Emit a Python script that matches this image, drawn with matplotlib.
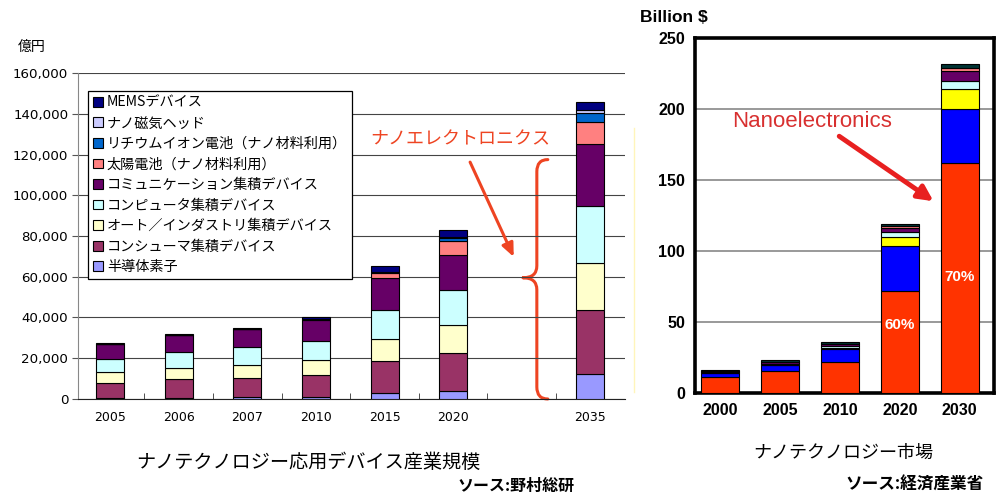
import matplotlib

matplotlib.use("Agg")
import matplotlib.pyplot as plt
import numpy as np
from matplotlib.patches import PathPatch
from matplotlib.path import Path

plt.rcParams["font.family"] = ["Noto Sans CJK JP", "DejaVu Sans"]

# ---- left chart: ナノテクノロジー応用デバイス産業規模 (億円) ----
left_years = ["2005", "2006", "2007", "2010", "2015", "2020", "", "2035"]
# stacking order: bottom -> top
left_series = [
    "半導体素子",
    "コンシューマ集積デバイス",
    "オート／インダストリ集積デバイス",
    "コンピュータ集積デバイス",
    "コミュニケーション集積デバイス",
    "太陽電池（ナノ材料利用）",
    "リチウムイオン電池（ナノ材料利用）",
    "ナノ磁気ヘッド",
    "MEMSデバイス",
]
semiconductor = [400, 300, 1000, 1000, 2800, 4100, 0, 12500]
consumer = [7300, 9300, 9200, 11000, 15800, 18400, 0, 31400]
auto_industry = [5600, 5700, 6600, 7000, 11000, 13700, 0, 22700]
computer = [6400, 7700, 8700, 9400, 14300, 17100, 0, 28000]
communication = [7500, 8500, 9000, 10500, 15500, 17600, 0, 30500]
solar = [0, 0, 0, 200, 2600, 6600, 0, 10700]
lithium = [0, 0, 0, 100, 300, 1500, 0, 4400]
magnetic_head = [0, 0, 0, 100, 200, 300, 0, 1600]
mems = [200, 600, 300, 700, 2900, 3600, 0, 4000]
left_colors = ["#9999FF", "#993366", "#FFFFCC", "#CCFFFF", "#660066",
               "#FF8080", "#0066CC", "#CCCCFF", "#000080"]

# ---- right chart: ナノテクノロジー市場 (Billion $) ----
right_years = ["2000", "2005", "2010", "2020", "2030"]
nanoelectronics = [11, 15.7, 22, 72, 162]
r_blue = [2.8, 4.0, 8.7, 31.5, 38]
r_yellow = [0.2, 0.3, 0.8, 6.3, 14]
r_cyan = [0.8, 0.8, 1.5, 3.5, 6]
r_purple = [0.5, 0.8, 1.2, 3.0, 7]
r_pink = [0.2, 0.3, 0.6, 1.5, 2]
r_dark = [0.7, 1.2, 1.4, 1.5, 3]
right_colors = ["#FF3300", "#0000FF", "#FFFF00", "#CCFFFF", "#660066",
                "#FF8080", "#003333"]
share_labels = {3: "60%", 4: "70%"}

RED = "#EE4422"


def draw_brace(ax, x_tip, x_line, x_end, y_top, y_mid, y_bot, color):
    r = (y_top - y_bot) * 0.05
    verts = [
        (x_end, y_top), (x_line, y_top), (x_line, y_top - r),
        (x_line, y_mid + r), (x_line, y_mid), (x_tip, y_mid),
        (x_tip, y_mid), (x_line, y_mid), (x_line, y_mid - r),
        (x_line, y_bot + r), (x_line, y_bot), (x_end, y_bot),
    ]
    codes = [Path.MOVETO, Path.CURVE3, Path.CURVE3,
             Path.LINETO, Path.CURVE3, Path.CURVE3,
             Path.MOVETO, Path.CURVE3, Path.CURVE3,
             Path.LINETO, Path.CURVE3, Path.CURVE3]
    patch = PathPatch(Path(verts, codes), fill=False, edgecolor=color,
                      lw=2.2, clip_on=False, capstyle="round")
    ax.add_patch(patch)


def plot_left(fig):
    ax = fig.add_axes([0.0782, 0.194, 0.549, 0.6585])
    data = [semiconductor, consumer, auto_industry, computer, communication,
            solar, lithium, magnetic_head, mems]
    x = np.arange(len(left_years))
    mask = np.array([y != "" for y in left_years])
    bottom = np.zeros(len(x))
    handles = []
    for name, vals, col in zip(left_series, data, left_colors):
        vals = np.array(vals, dtype=float)
        b = ax.bar(x[mask], vals[mask], 0.41, bottom=bottom[mask], color=col,
                   edgecolor="black", linewidth=0.8, label=name, zorder=3)
        handles.append(b)
        bottom += vals

    ax.set_xlim(-0.47, 7.51)
    ax.set_ylim(0, 160000)
    ax.set_yticks(np.arange(0, 160001, 20000))
    ax.set_yticklabels([f"{v:,}" for v in range(0, 160001, 20000)],
                       family="DejaVu Sans", fontsize=9.6)
    ax.set_xticks(x)
    ax.set_xticklabels(left_years, family="DejaVu Sans", fontsize=9)
    ax.tick_params(axis="x", length=0, pad=9)
    ax.set_xticks(x[:-1] + 0.5, minor=True)
    ax.tick_params(axis="x", which="minor", direction="in", length=4,
                   color="#333333")
    ax.tick_params(axis="y", length=4, color="#555555", pad=3)
    ax.grid(axis="y", color="#444444", linewidth=0.8, zorder=0)
    for s in ["top", "right"]:
        ax.spines[s].set_visible(False)
    ax.spines["left"].set_color("#888888")
    ax.spines["bottom"].set_color("#222222")

    leg = ax.legend(handles[::-1], left_series[::-1], loc="upper left",
                    bbox_to_anchor=(0.018, 0.945), borderaxespad=0,
                    fontsize=10.2, frameon=True, fancybox=False,
                    edgecolor="black", framealpha=1, handlelength=0.7,
                    handleheight=0.7, handletextpad=0.3, labelspacing=0.46,
                    borderpad=0.35)
    leg.get_frame().set_linewidth(0.9)
    leg.set_zorder(5)

    fig.text(18 / 997, 1 - 47 / 495, "億円", fontsize=10, ha="left",
             va="center")

    # ナノエレクトロニクス brace + arrow
    ax.text(5.1, 127500, "ナノエレクトロニクス", color=RED, fontsize=13,
            ha="center", va="center", zorder=6)
    ax.annotate("", xy=(5.9, 68500), xytext=(5.23, 117500),
                arrowprops=dict(arrowstyle="-|>,head_length=0.8,head_width=0.35",
                                color=RED, lw=2.2))
    draw_brace(ax, 6.02, 6.22, 6.38, 117500, 59500, 0, RED)
    ax.axvline(7.63, ymin=0.02, ymax=0.83, color="#FFF5BB", lw=1.0,
               clip_on=False)

    fig.text(308 / 997, 1 - 462 / 495, "ナノテクノロジー応用デバイス産業規模",
             fontsize=13.8, ha="center", va="center")
    fig.text(457 / 997, 1 - 486 / 495, "ソース:野村総研", fontsize=11.5,
             ha="left", va="center", fontweight="bold")


def plot_right(fig):
    ax = fig.add_axes([0.697, 0.206, 0.2999, 0.717])
    data = [nanoelectronics, r_blue, r_yellow, r_cyan, r_purple, r_pink, r_dark]
    x = np.arange(len(right_years))
    bottom = np.zeros(len(x))
    for vals, col in zip(data, right_colors):
        ax.bar(x, vals, 0.63, bottom=bottom, color=col, edgecolor="black",
               linewidth=0.8, zorder=3)
        bottom += np.array(vals)

    for i, lab in share_labels.items():
        y = 48 if i == 3 else 82
        ax.text(i, y, lab, color="white", fontsize=11, fontweight="bold",
                family="Liberation Sans", ha="center", va="center", zorder=4)

    ax.set_xlim(-0.42, 4.57)
    ax.set_ylim(0, 250)
    ax.set_yticks(np.arange(0, 251, 50))
    ax.set_yticklabels([str(v) for v in range(0, 251, 50)],
                       family="Liberation Sans", fontweight="bold", fontsize=11.5)
    ax.set_xticks(x)
    ax.set_xticklabels(right_years, family="Liberation Sans",
                       fontweight="bold", fontsize=11.5)
    ax.tick_params(length=0, pad=7)
    ax.grid(axis="y", color="#888888", linewidth=1.2, zorder=0)
    for s in ax.spines.values():
        s.set_linewidth(2.6)
        s.set_color("black")

    ax.text(1.53, 191.5, "Nanoelectronics", color="#D83030", fontsize=16,
            family="Liberation Sans", ha="center", va="center", zorder=6)
    ax.annotate("", xy=(3.6, 134), xytext=(1.95, 182),
                arrowprops=dict(arrowstyle="-|>,head_length=0.9,head_width=0.45",
                                color="#E82020", lw=3.5))

    fig.text(640 / 997, 1 - 17 / 495, "Billion $", fontsize=12.5,
             fontweight="bold", family="Liberation Sans", ha="left",
             va="center")
    fig.text(843 / 997, 1 - 453 / 495, "ナノテクノロジー市場", fontsize=13,
             ha="center", va="center")
    fig.text(845 / 997, 1 - 485 / 495, "ソース:経済産業省", fontsize=12,
             ha="left", va="center", fontweight="bold")


def main():
    fig = plt.figure(figsize=(9.97, 4.95), dpi=100)
    plot_left(fig)
    plot_right(fig)
    fig.savefig("out.png", dpi=100)
    plt.close(fig)


if __name__ == "__main__":
    main()
